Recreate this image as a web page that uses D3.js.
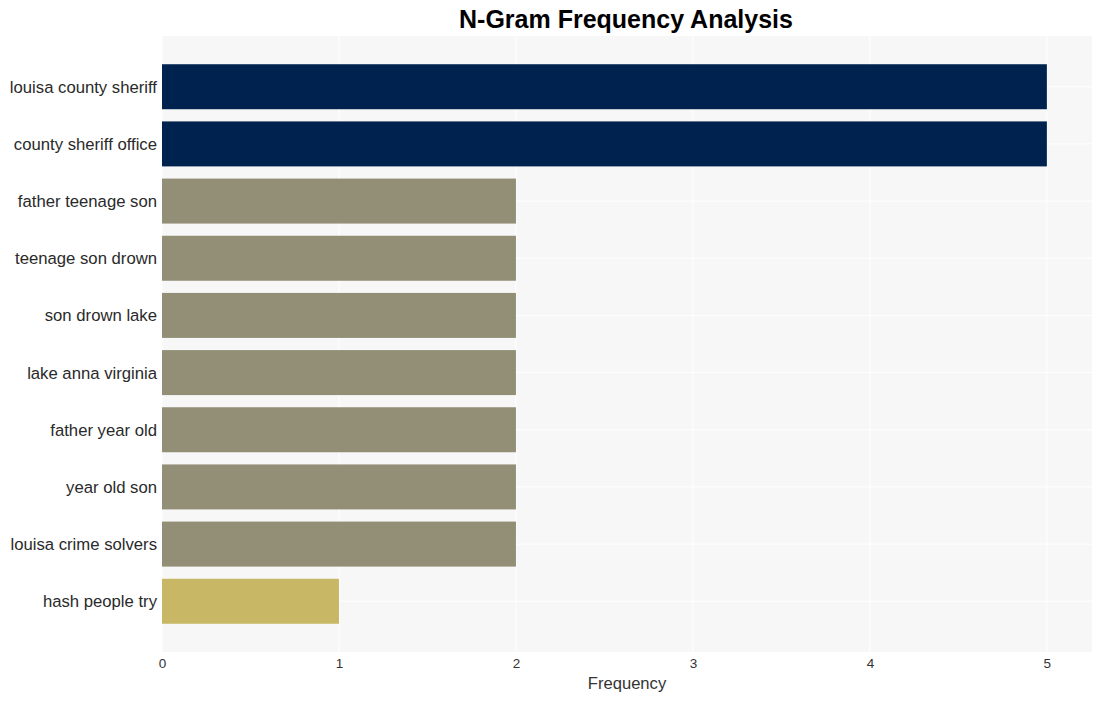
<!DOCTYPE html>
<html><head><meta charset="utf-8">
<script src="https://cdn.jsdelivr.net/npm/d3@7"></script>
<style>body{margin:0;background:#fff;font-family:"Liberation Sans",Arial,sans-serif;}</style>
</head><body>
<svg id="c" width="1101" height="701"></svg>
<script>
const categories = ["louisa county sheriff","county sheriff office","father teenage son","teenage son drown","son drown lake","lake anna virginia","father year old","year old son","louisa crime solvers","hash people try"];
const values = [5,5,2,2,2,2,2,2,2,1];
const colors = ["#00224e","#00224e","#938e76","#938e76","#938e76","#938e76","#938e76","#938e76","#938e76","#c8b866"];
const xTicks = [0,1,2,3,4,5];

const svg = d3.select("#c");
const L=162, R=1092, T=36, B=652;
const x = d3.scaleLinear().domain([0,5.255]).range([L,R]);
const y = d3.scaleBand().domain(categories).range([T,B]).paddingInner(0.213).paddingOuter(0.494);

svg.append("rect").attr("x",L).attr("y",T).attr("width",R-L).attr("height",B-T).attr("fill","#f7f7f7");
svg.append("g").selectAll("line").data(xTicks).join("line")
  .attr("x1",d=>x(d)).attr("x2",d=>x(d)).attr("y1",T).attr("y2",B)
  .attr("stroke","#fff").attr("stroke-width",1);
svg.append("g").selectAll("line").data(categories).join("line")
  .attr("x1",L).attr("x2",R).attr("y1",d=>y(d)+y.bandwidth()/2).attr("y2",d=>y(d)+y.bandwidth()/2)
  .attr("stroke","#fff").attr("stroke-width",1);

svg.append("g").selectAll("rect").data(categories).join("rect")
  .attr("x",x(0)).attr("y",d=>y(d)).attr("height",y.bandwidth())
  .attr("width",(d,i)=>x(values[i])-x(0)).attr("fill",(d,i)=>colors[i]);

const xa = svg.append("g").attr("transform",`translate(0,${B})`)
  .call(d3.axisBottom(x).tickValues(xTicks).tickFormat(d3.format("d")).tickSize(0).tickPadding(6));
xa.select(".domain").remove();
xa.selectAll("text").style("font-size","13.5px").attr("fill","#333").style("font-family","Liberation Sans, Arial, sans-serif");

const ya = svg.append("g").attr("transform",`translate(${L},0)`)
  .call(d3.axisLeft(y).tickSize(0).tickPadding(5));
ya.select(".domain").remove();
ya.selectAll("text").style("font-size","16.7px").attr("dy","0.36em").attr("fill","#2a2a2a").style("font-family","Liberation Sans, Arial, sans-serif");

svg.append("text").attr("x",627).attr("y",689).attr("text-anchor","middle")
  .attr("font-size",16.6).attr("fill","#333").text("Frequency");
svg.append("text").attr("x",626).attr("y",28).attr("text-anchor","middle")
  .attr("font-size",25).attr("font-weight","bold").attr("fill","#000").text("N-Gram Frequency Analysis");
</script>
</body></html>
